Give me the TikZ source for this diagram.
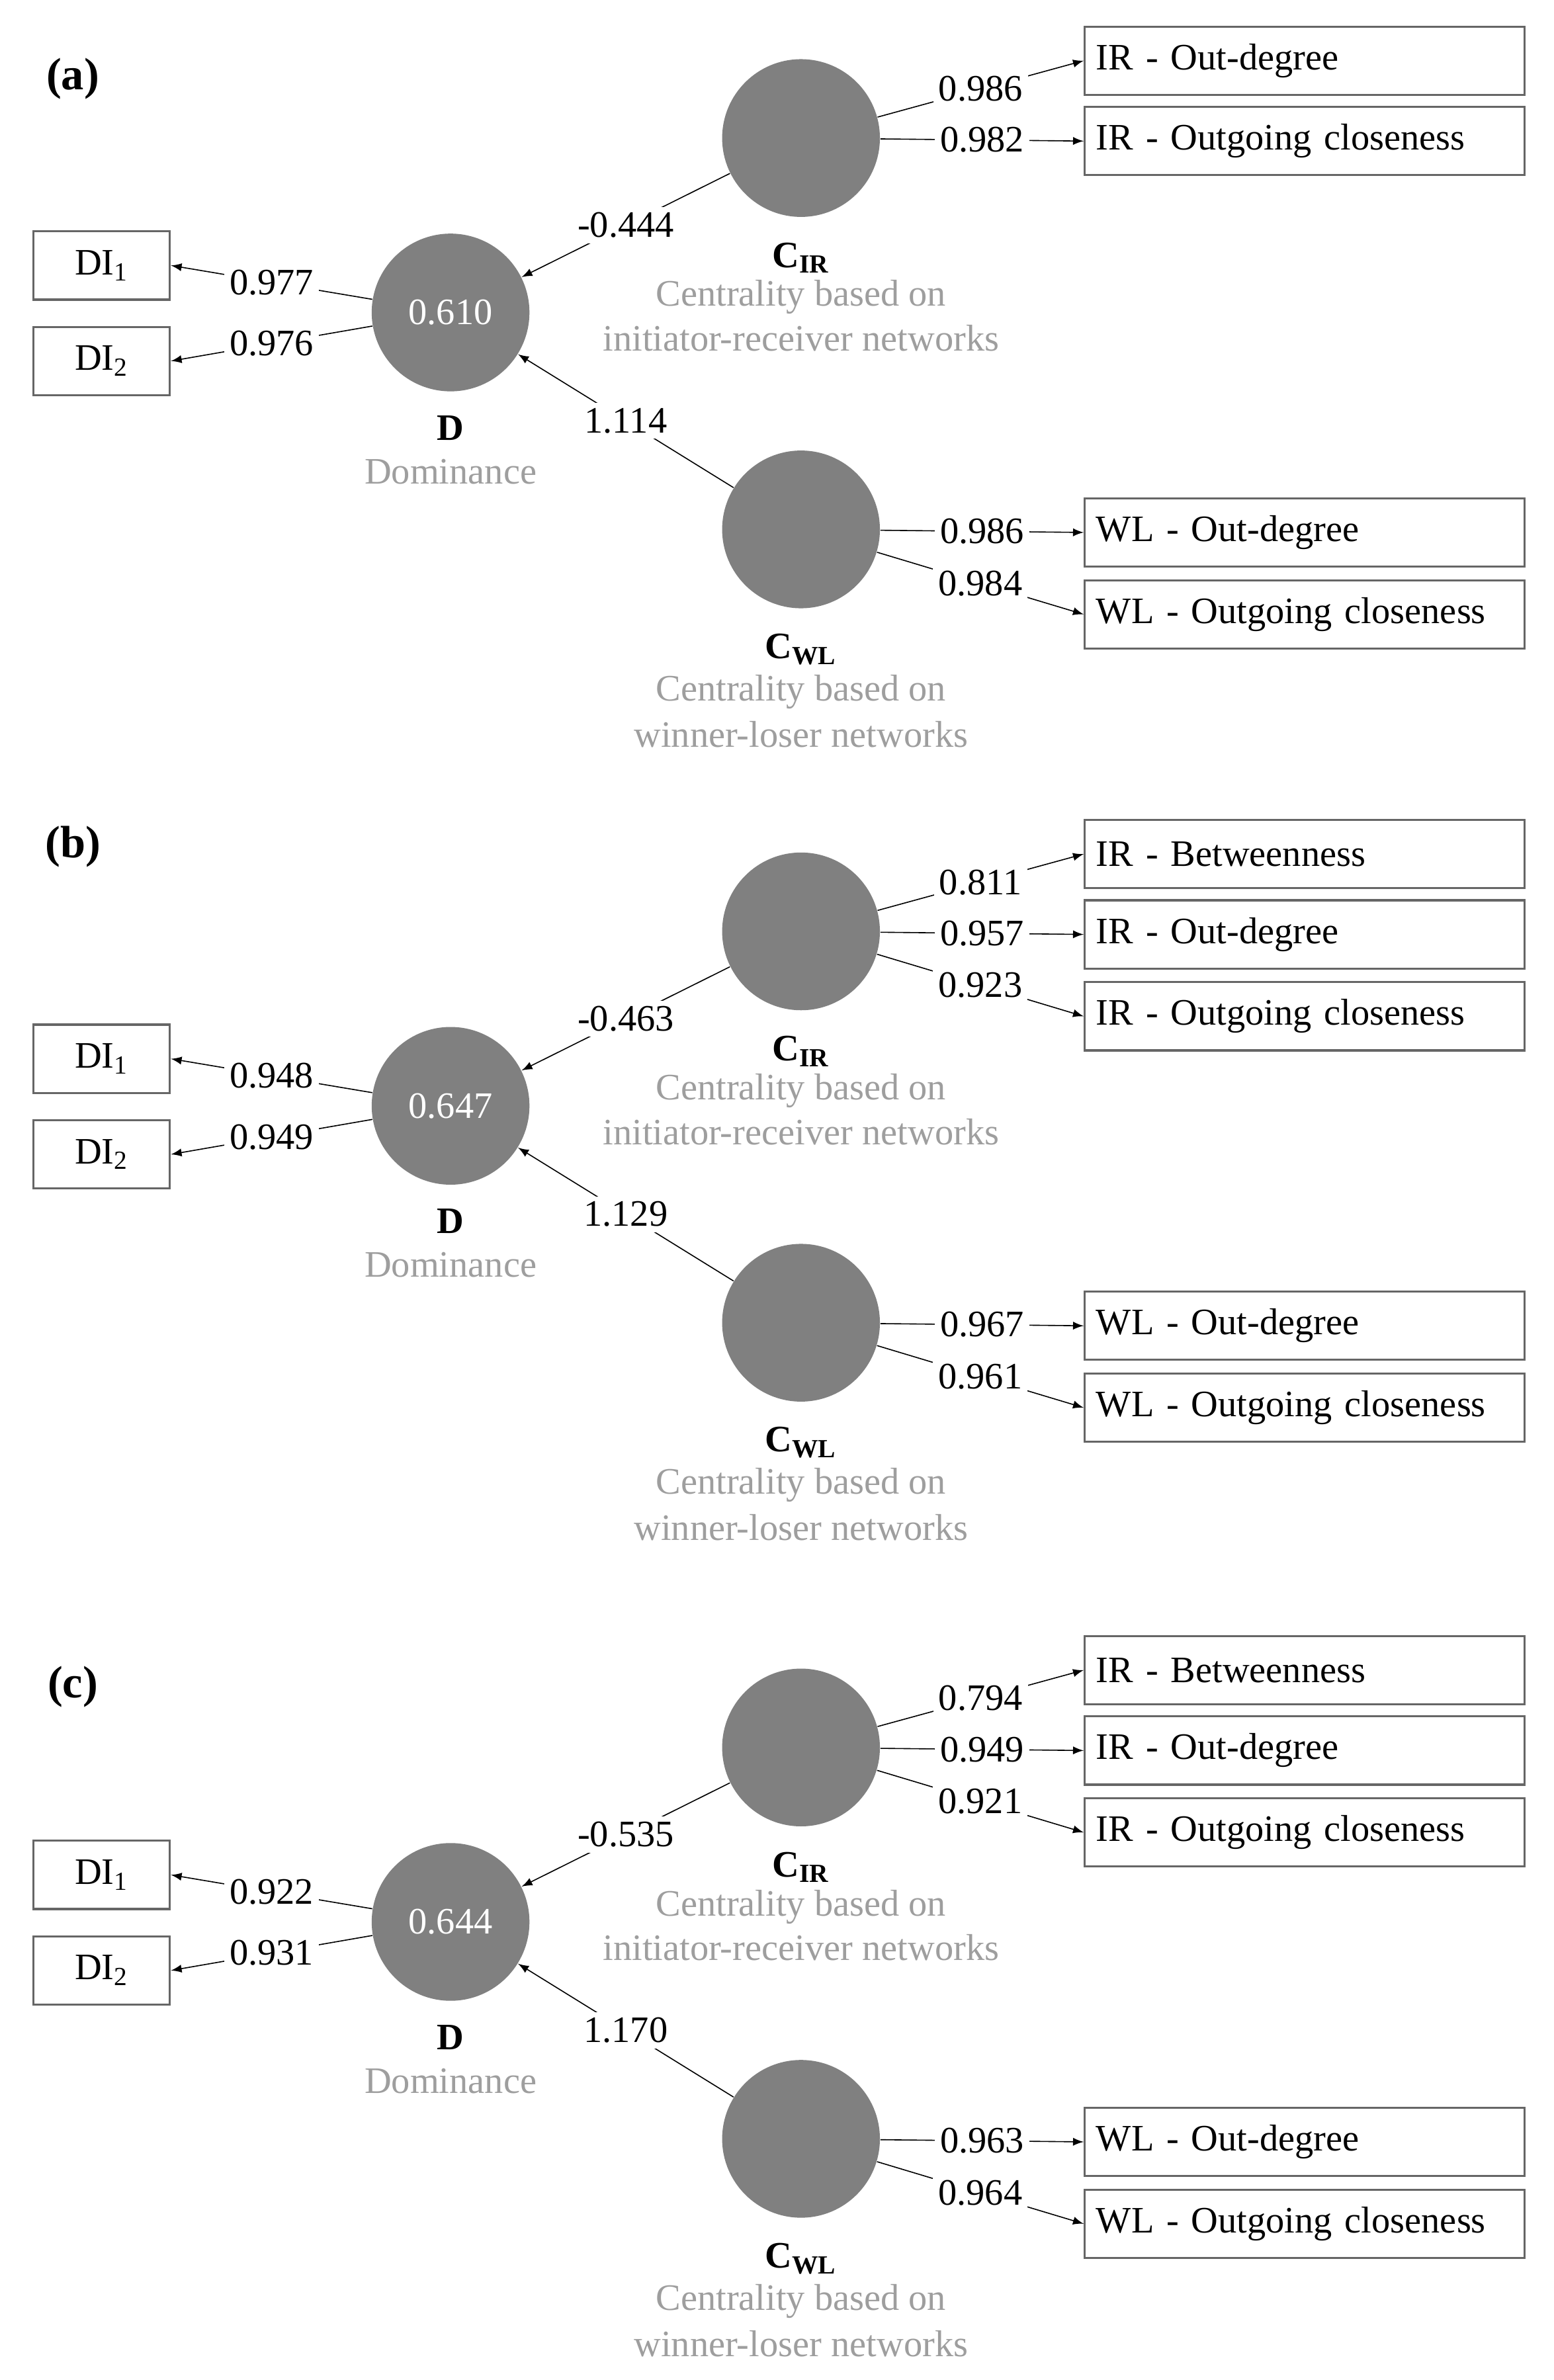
\documentclass[tikz,border=0pt]{standalone}
\usepackage{fontspec}
\setmainfont{Liberation Serif}
\usetikzlibrary{arrows,positioning}
\tikzstyle{latent}=[circle,fill=black!50,minimum size=2.08cm,inner sep=0pt,text=white]
\tikzstyle{indic}=[rectangle,draw=black!60,thick,minimum height=0.9cm,inner sep=0pt]
\tikzstyle{dbox}=[indic,minimum width=1.8cm]
\tikzstyle{ibox}=[indic,minimum width=5.8cm,text width=5.5cm,align=left]
\tikzstyle{coef}=[fill=white,inner sep=2pt]
\tikzstyle{gtxt}=[text=black!38,inner sep=0pt]
\begin{document}
\begin{tikzpicture}[x=0.02cm,y=-0.02cm,font=\fontsize{14}{16}\selectfont,>=latex]
\useasboundingbox (0,0) rectangle (1024,1569);

% PANEL (a)
\begin{scope}
\node[font=\fontsize{17}{19}\selectfont\bfseries] (la) at (48,52) {(a)};
\node[latent] (Da) at (297,206) {0.610};
\node[dbox] (DI1a) at (67,175) {DI\textsubscript{1}};
\node[dbox] (DI2a) at (67,238) {DI\textsubscript{2}};
\node[font=\fontsize{14}{16}\selectfont\bfseries,inner sep=0pt] (Dna) at (297,282) {D};
\node[gtxt] (Dta) at (297,311) {Dominance};
\node[latent] (CIRa) at (528,91) {};
\node[font=\fontsize{14}{16}\selectfont\bfseries,inner sep=0pt] (CIRna) at (528,170) {C\textsubscript{IR}};
\node[gtxt] (CIRta) at (528,196) {Centrality based on};
\node[gtxt] (CIRua) at (528,223) {initiator-receiver networks};
\node[latent] (CWLa) at (528,349) {};
\node[font=\fontsize{14}{16}\selectfont\bfseries,inner sep=0pt] (CWLna) at (528,428) {C\textsubscript{WL}};
\node[gtxt] (CWLta) at (528,456) {Centrality based on};
\node[gtxt] (CWLua) at (528,484) {winner-loser networks};
\node[ibox] (IR2a) at (860,40) {IR - Out-degree};
\node[ibox] (IR3a) at (860,93) {IR - Outgoing closeness};
\node[ibox] (WL1a) at (860,351) {WL - Out-degree};
\node[ibox] (WL2a) at (860,405) {WL - Outgoing closeness};

\path[->] (Da) edge node[coef] {0.977} (DI1a.east);
\path[->] (Da) edge node[coef] {0.976} (DI2a.east);
\path[->] (CIRa) edge node[coef] {-0.444} (Da);
\path[->] (CWLa) edge node[coef] {1.114} (Da);
\path[->] (CIRa) edge node[coef] {0.986} (IR2a.west);
\path[->] (CIRa) edge node[coef] {0.982} (IR3a.west);
\path[->] (CWLa) edge node[coef] {0.986} (WL1a.west);
\path[->] (CWLa) edge node[coef] {0.984} (WL2a.west);
\end{scope}

% PANEL (b)
\begin{scope}[shift={(0,523)}]
\node[font=\fontsize{17}{19}\selectfont\bfseries] (lb) at (48,35) {(b)};
\node[latent] (Db) at (297,206) {0.647};
\node[dbox] (DI1b) at (67,175) {DI\textsubscript{1}};
\node[dbox] (DI2b) at (67,238) {DI\textsubscript{2}};
\node[font=\fontsize{14}{16}\selectfont\bfseries,inner sep=0pt] (Dnb) at (297,282) {D};
\node[gtxt] (Dtb) at (297,311) {Dominance};
\node[latent] (CIRb) at (528,91) {};
\node[font=\fontsize{14}{16}\selectfont\bfseries,inner sep=0pt] (CIRnb) at (528,170) {C\textsubscript{IR}};
\node[gtxt] (CIRtb) at (528,196) {Centrality based on};
\node[gtxt] (CIRub) at (528,223) {initiator-receiver networks};
\node[latent] (CWLb) at (528,349) {};
\node[font=\fontsize{14}{16}\selectfont\bfseries,inner sep=0pt] (CWLnb) at (528,428) {C\textsubscript{WL}};
\node[gtxt] (CWLtb) at (528,456) {Centrality based on};
\node[gtxt] (CWLub) at (528,484) {winner-loser networks};
\node[ibox] (IR1b) at (860,40) {IR - Betweenness};
\node[ibox] (IR2b) at (860,93) {IR - Out-degree};
\node[ibox] (IR3b) at (860,147) {IR - Outgoing closeness};
\node[ibox] (WL1b) at (860,351) {WL - Out-degree};
\node[ibox] (WL2b) at (860,405) {WL - Outgoing closeness};

\path[->] (Db) edge node[coef] {0.948} (DI1b.east);
\path[->] (Db) edge node[coef] {0.949} (DI2b.east);
\path[->] (CIRb) edge node[coef] {-0.463} (Db);
\path[->] (CWLb) edge node[coef] {1.129} (Db);
\path[->] (CIRb) edge node[coef] {0.811} (IR1b.west);
\path[->] (CIRb) edge node[coef] {0.957} (IR2b.west);
\path[->] (CIRb) edge node[coef] {0.923} (IR3b.west);
\path[->] (CWLb) edge node[coef] {0.967} (WL1b.west);
\path[->] (CWLb) edge node[coef] {0.961} (WL2b.west);
\end{scope}

% PANEL (c)
\begin{scope}[shift={(0,1061)}]
\node[font=\fontsize{17}{19}\selectfont\bfseries] (lc) at (48,51) {(c)};
\node[latent] (Dc) at (297,206) {0.644};
\node[dbox] (DI1c) at (67,175) {DI\textsubscript{1}};
\node[dbox] (DI2c) at (67,238) {DI\textsubscript{2}};
\node[font=\fontsize{14}{16}\selectfont\bfseries,inner sep=0pt] (Dnc) at (297,282) {D};
\node[gtxt] (Dtc) at (297,311) {Dominance};
\node[latent] (CIRc) at (528,91) {};
\node[font=\fontsize{14}{16}\selectfont\bfseries,inner sep=0pt] (CIRnc) at (528,170) {C\textsubscript{IR}};
\node[gtxt] (CIRtc) at (528,196) {Centrality based on};
\node[gtxt] (CIRuc) at (528,223) {initiator-receiver networks};
\node[latent] (CWLc) at (528,349) {};
\node[font=\fontsize{14}{16}\selectfont\bfseries,inner sep=0pt] (CWLnc) at (528,428) {C\textsubscript{WL}};
\node[gtxt] (CWLtc) at (528,456) {Centrality based on};
\node[gtxt] (CWLuc) at (528,484) {winner-loser networks};
\node[ibox] (IR1c) at (860,40) {IR - Betweenness};
\node[ibox] (IR2c) at (860,93) {IR - Out-degree};
\node[ibox] (IR3c) at (860,147) {IR - Outgoing closeness};
\node[ibox] (WL1c) at (860,351) {WL - Out-degree};
\node[ibox] (WL2c) at (860,405) {WL - Outgoing closeness};

\path[->] (Dc) edge node[coef] {0.922} (DI1c.east);
\path[->] (Dc) edge node[coef] {0.931} (DI2c.east);
\path[->] (CIRc) edge node[coef] {-0.535} (Dc);
\path[->] (CWLc) edge node[coef] {1.170} (Dc);
\path[->] (CIRc) edge node[coef] {0.794} (IR1c.west);
\path[->] (CIRc) edge node[coef] {0.949} (IR2c.west);
\path[->] (CIRc) edge node[coef] {0.921} (IR3c.west);
\path[->] (CWLc) edge node[coef] {0.963} (WL1c.west);
\path[->] (CWLc) edge node[coef] {0.964} (WL2c.west);
\end{scope}
\end{tikzpicture}
\end{document}
